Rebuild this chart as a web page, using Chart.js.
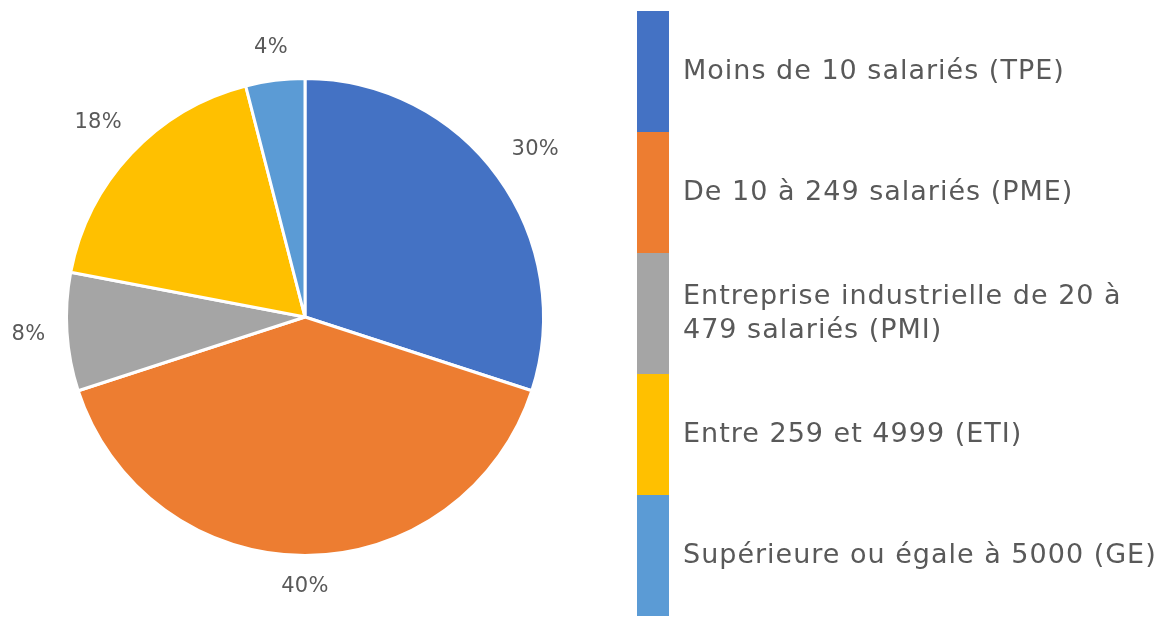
<!DOCTYPE html>
<html>
<head>
<meta charset="utf-8">
<script src="https://cdn.jsdelivr.net/npm/chart.js@4/dist/chart.umd.min.js"></script>
<style>
  html, body { margin: 0; padding: 0; background: #fff; }
  #wrap { width: 1158px; height: 618px; position: relative; }
</style>
</head>
<body>
<div id="wrap"><canvas id="pie"></canvas></div>
<script>
const categories = [
  "Moins de 10 salariés (TPE)",
  "De 10 à 249 salariés (PME)",
  ["Entreprise industrielle de 20 à", "479 salariés (PMI)"],
  "Entre 259 et 4999 (ETI)",
  "Supérieure ou égale à 5000 (GE)"
];
const shares = [30, 40, 8, 18, 4];
const colors = ['#4472C4', '#ED7D31', '#A5A5A5', '#FFC000', '#5B9BD5'];

const textColor = '#595959';
const fontFamily = '"DejaVu Sans", sans-serif';

// percent labels outside each slice
const outsideLabels = {
  id: 'outsideLabels',
  afterDatasetsDraw(chart) {
    const ctx = chart.ctx;
    const meta = chart.getDatasetMeta(0);
    ctx.save();
    ctx.font = `21px ${fontFamily}`;
    ctx.letterSpacing = '0.3px';
    ctx.fillStyle = textColor;
    ctx.textAlign = 'center';
    ctx.textBaseline = 'middle';
    meta.data.forEach((arc, i) => {
      const mid = (arc.startAngle + arc.endAngle) / 2;
      const txt = shares[i] + '%';
      const w = ctx.measureText(txt).width;
      const h = 20;
      const cx = Math.cos(mid), cy = Math.sin(mid);
      const d = arc.outerRadius + 21 + Math.abs(cx) * w / 2 + Math.abs(cy) * h / 2;
      ctx.fillText(txt, arc.x + cx * d, arc.y + cy * d);
    });
    ctx.restore();
  }
};

// legend with tall colour bars on the right
const barLegend = {
  id: 'barLegend',
  afterDraw(chart) {
    const ctx = chart.ctx;
    const top = 11, segH = 121, barX = 637, barW = 32, textX = 683, lineH = 34;
    ctx.save();
    ctx.font = `27px ${fontFamily}`;
    ctx.letterSpacing = '1px';
    ctx.textBaseline = 'middle';
    ctx.textAlign = 'left';
    categories.forEach((lab, i) => {
      const y0 = top + i * segH;
      ctx.fillStyle = colors[i];
      ctx.fillRect(barX, y0, barW, segH);
      const lines = Array.isArray(lab) ? lab : [lab];
      const mid = y0 + segH / 2;
      ctx.fillStyle = textColor;
      lines.forEach((ln, j) => {
        const y = mid + (j - (lines.length - 1) / 2) * lineH;
        ctx.fillText(ln, textX, y);
      });
    });
    ctx.restore();
  }
};

new Chart(document.getElementById('pie'), {
  type: 'pie',
  data: {
    labels: categories,
    datasets: [{
      data: shares,
      backgroundColor: colors,
      borderColor: '#ffffff',
      borderWidth: 3
    }]
  },
  options: {
    responsive: true,
    maintainAspectRatio: false,
    animation: false,
    layout: { padding: { left: 65, right: 613, top: 77, bottom: 61 } },
    plugins: {
      legend: { display: false },
      tooltip: { enabled: false }
    }
  },
  plugins: [outsideLabels, barLegend]
});
</script>
</body>
</html>
